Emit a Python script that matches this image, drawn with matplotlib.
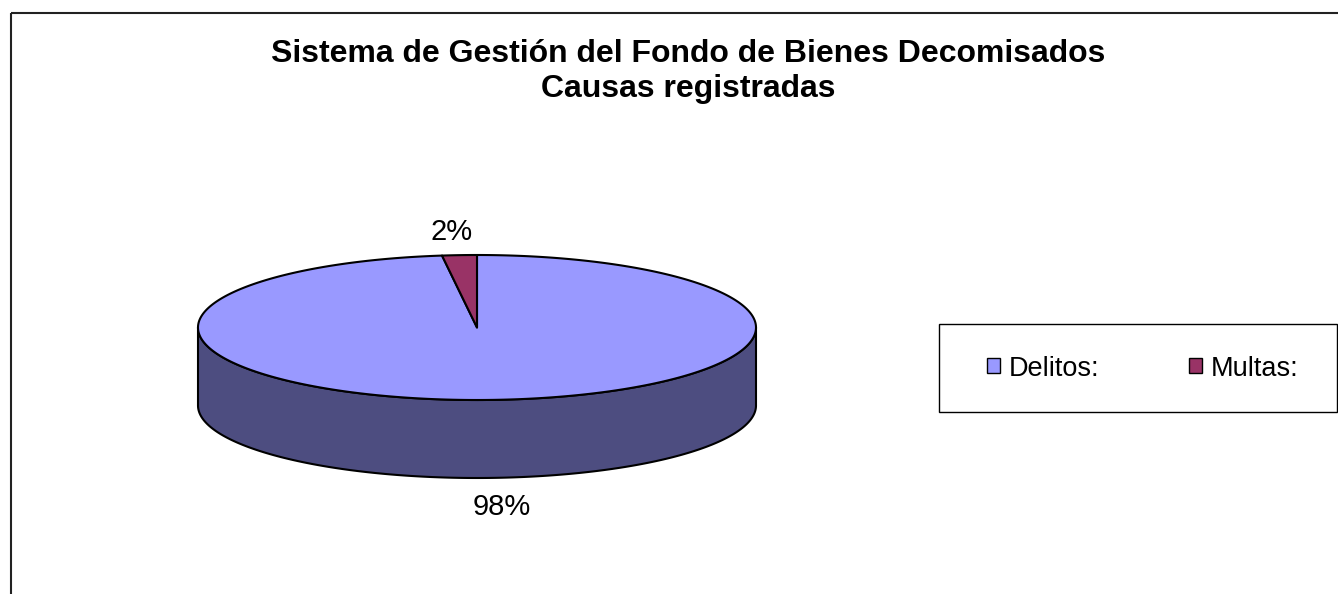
import numpy as np
import matplotlib
matplotlib.use("Agg")
import matplotlib.pyplot as plt
from matplotlib.patches import Polygon, Patch, Rectangle

# ---- data ----
categories = ["Delitos:", "Multas:"]
values = [98, 2]
labels = ["98%", "2%"]
top_colors = ["#9999FF", "#993366"]
title_lines = ["Sistema de Gestión del Fondo de Bienes Decomisados", "Causas registradas"]

plt.rcParams['font.family'] = ['Liberation Sans', 'DejaVu Sans']

W, H = 1338, 594
fig = plt.figure(figsize=(W / 100, H / 100), dpi=100)
ax = fig.add_axes([0, 0, 1, 1])
ax.set_xlim(0, W)
ax.set_ylim(H, 0)
ax.axis('off')

# outer chart border (cropped on right and bottom)
ax.plot([10.5, 10.5], [H + 5, 12.5], color='#222222', lw=1.5, solid_capstyle='butt')
ax.plot([10.5, W + 5], [12.5, 12.5], color='#222222', lw=1.5, solid_capstyle='butt')

# ---- 3D pie geometry (layout) ----
cx, cy = 477.0, 327.5
a, b = 279.0, 72.5
depth = 78.0
edge_lw = 1.5


def arc(t0, t1, dy=0.0, n=None):
    if n is None:
        n = max(int(abs(t1 - t0) * 2), 2)
    ts = np.linspace(t0, t1, n)
    r = np.radians(ts)
    return np.column_stack([cx + a * np.cos(r), cy - b * np.sin(r) + dy])


def darken(c, f=0.5):
    return np.array(matplotlib.colors.to_rgb(c)) * f


total = float(sum(values))
# Excel-style: start at 12 o'clock, go clockwise
spans = []
start = 90.0
for v in values:
    sweep = 360.0 * v / total
    spans.append((start - sweep, start))  # ccw interval [t0, t1]
    start -= sweep

# side walls (front half: angles in [180, 360] mod 360)
for (t0, t1), col in zip(spans, top_colors):
    for k in range(-2, 2):
        f0, f1 = 180 + 360 * k, 360 + 360 * k
        s0, s1 = max(t0, f0), min(t1, f1)
        if s1 > s0:
            upper = arc(s0, s1)
            lower = arc(s1, s0, dy=depth)
            poly = np.vstack([upper, lower])
            ax.add_patch(Polygon(poly, closed=True, facecolor=darken(col),
                                 edgecolor='black', lw=edge_lw, joinstyle='round'))

# top faces
for (t0, t1), col in zip(spans, top_colors):
    poly = np.vstack([[cx, cy], arc(t0, t1)])
    ax.add_patch(Polygon(poly, closed=True, facecolor=col,
                         edgecolor='black', lw=edge_lw, joinstyle='round'))

# data labels outside each slice
offx, offy = 120.0, 26.0
for (t0, t1), lab in zip(spans, labels):
    m = np.radians((t0 + t1) / 2)
    x = cx + (a + offx) * np.cos(m)
    y = cy - (b + offy) * np.sin(m) + 3
    if np.sin(m) < 0:
        y += depth
    ax.text(x, y, lab, ha='center', va='center', fontsize=21, color='black')

# title
ax.text(688.5, 62, title_lines[0], ha='center', va='baseline',
        fontsize=23, fontweight='bold')
ax.text(688.5, 97, title_lines[1], ha='center', va='baseline',
        fontsize=23, fontweight='bold')

# legend
ax.add_patch(Rectangle((938.5, 323.5), 398, 88, facecolor='white',
                       edgecolor='black', lw=1.0, zorder=3))
handles = [Patch(facecolor=c, edgecolor='black', lw=1.0) for c in top_colors]
leg = ax.legend(handles, categories, loc='center left',
                bbox_to_anchor=(987, 368.5), bbox_transform=ax.transData,
                ncol=2, frameon=False, fontsize=19.5, handlelength=0.48,
                handleheight=0.48, handletextpad=0.33, columnspacing=3.3,
                borderpad=0, borderaxespad=0)
leg.set_zorder(4)

fig.savefig("out.png", dpi=100)
